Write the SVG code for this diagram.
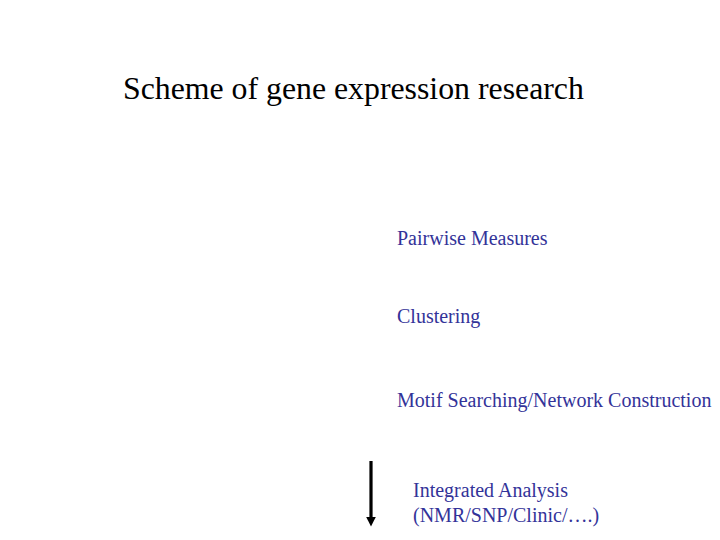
<svg xmlns="http://www.w3.org/2000/svg" width="720" height="540" viewBox="0 0 720 540">
<style>
.t{font-family:"Liberation Serif","Times New Roman",serif;}
.lbl{font-size:20px;fill:#333399;}
</style>
<defs>
<marker id="ah" markerWidth="3" markerHeight="3" refX="0" refY="1.5" orient="auto" markerUnits="strokeWidth"><path d="M0,0 L3,1.5 L0,3 z" fill="#000"/></marker>
</defs>
<rect width="720" height="540" fill="#fff"/>
<text id="title" class="t" x="123" y="99" font-size="31.8" fill="#000">Scheme of gene expression research</text>
<g id="n1"><text class="t lbl" x="397" y="245">Pairwise Measures</text></g>
<g id="n2"><text class="t lbl" x="397" y="323">Clustering</text></g>
<g id="n3"><text class="t lbl" x="397" y="407">Motif Searching/Network Construction</text></g>
<g id="n4"><text class="t lbl" x="413" y="497">Integrated Analysis</text><text class="t lbl" x="413" y="522">(NMR/SNP/Clinic/….)</text></g>
<g id="connectors"><line x1="371" y1="461" x2="371" y2="517" stroke="#000" stroke-width="3.2" marker-end="url(#ah)"/></g>
</svg>
